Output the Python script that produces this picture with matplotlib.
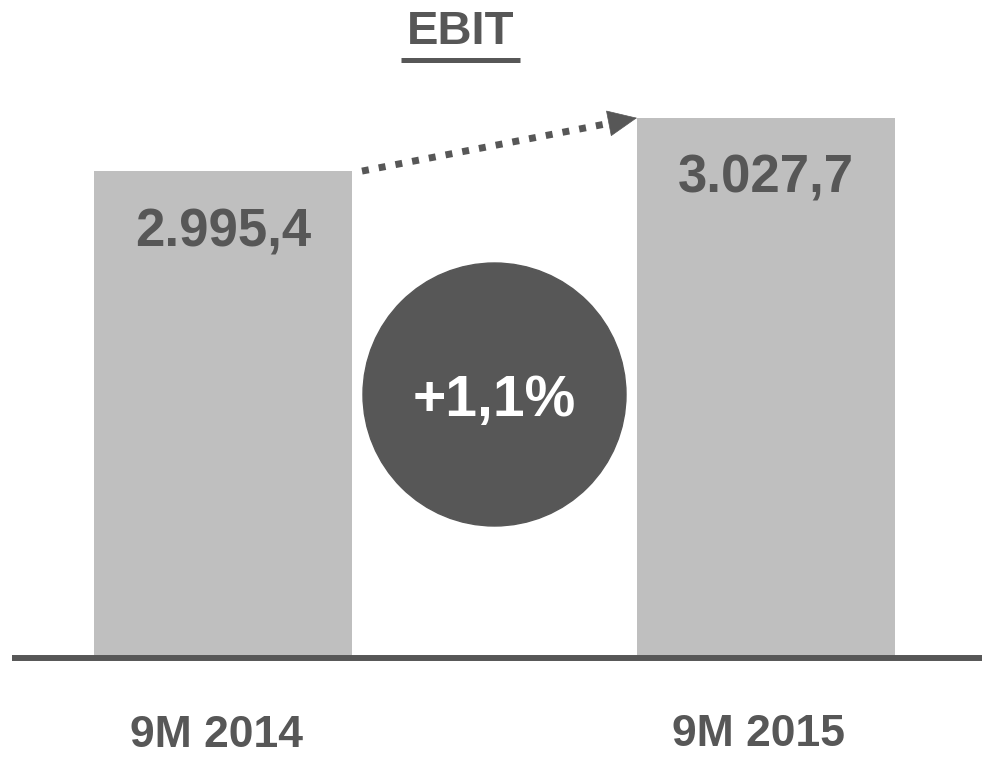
import matplotlib
matplotlib.use("Agg")
import matplotlib.pyplot as plt
from matplotlib.patches import Circle
from matplotlib.lines import Line2D

# ---- data ----
categories = ["9M 2014", "9M 2015"]
values = [2995.4, 3027.7]
value_labels = ["2.995,4", "3.027,7"]
growth_label = "+1,1%"
title = "EBIT"
axis_base = 2700.0

# ---- style ----
plt.rcParams['font.family'] = ['Liberation Sans', 'DejaVu Sans']
BAR = "#BFBFBF"
DARK = "#575757"
W, H, DPI = 982, 757, 100

fig = plt.figure(figsize=(W / DPI, H / DPI), dpi=DPI)
ax = fig.add_axes([0, 0, 1, 1])
ax.set_axis_off()

# x: bar centres at px 223 / 766 (543 px per unit)
ax.set_xlim(-223 / 543, (W - 223) / 543)
# y: base 2700 at px 657.5, 0.6073 units per px
s = 0.6073
ax.set_ylim(axis_base - (H - 657.5) * s, axis_base + 657.5 * s)

xs = list(range(len(categories)))
bw = 258 / 543
heights = [v - axis_base for v in values]
ax.bar(xs, heights, bottom=axis_base, width=bw, color=BAR, zorder=1)

# baseline
ax.axhline(axis_base, xmin=12 / W, xmax=1, color=DARK, lw=4.3, zorder=3,
           solid_capstyle='butt')

# value labels inside bars
for x, v, lab in zip(xs, values, value_labels):
    ax.annotate(lab, xy=(x, v), xytext=(0, -75), textcoords='offset pixels',
                ha='center', va='baseline', fontsize=38, fontweight='bold',
                color=DARK, zorder=4)

# category labels
cat_base_px = [747, 746]
for x, lab, by in zip(xs, categories, cat_base_px):
    ax.annotate(lab, xy=(x, axis_base), xytext=(-7, -(by - 657.5)),
                textcoords='offset pixels', ha='center', va='baseline',
                fontsize=32, fontweight='bold', color=DARK)

# dotted trend arrow between bar tops
x0 = xs[0] + bw / 2 + 10 / 543
x1 = xs[1] - bw / 2
# head base ~28 px before tip along the line
frac = 28 / 280
xb = x1 - (x1 - x0) * frac
yb = values[1] - (values[1] - values[0]) * frac
ax.plot([x0, xb], [values[0], yb], color=DARK, lw=5,
        linestyle=(0, (1, 1.45)), dash_capstyle='butt', zorder=5)
ax.annotate('', xy=(x1, values[1]), xytext=(xb, yb),
            arrowprops=dict(arrowstyle='-|>,head_length=20,head_width=9',
                            mutation_scale=1, color=DARK, lw=0.5,
                            shrinkA=0, shrinkB=0), zorder=5)

# growth circle
circ = Circle((494.5 / DPI, (H - 394.5) / DPI), 131.5 / DPI,
              transform=fig.dpi_scale_trans, color=DARK, zorder=6)
ax.add_patch(circ)
fig.text(494 / W, 1 - 416 / H, growth_label, ha='center', va='baseline',
         fontsize=41, fontweight='bold', color='white', zorder=7)

# title with underline
fig.text(461 / W, 1 - 44 / H, title, ha='center', va='baseline',
         fontsize=34, fontweight='bold', color=DARK)
fig.add_artist(Line2D([401 / W, 520 / W], [1 - 59.5 / H, 1 - 59.5 / H],
                      transform=fig.transFigure, color=DARK, lw=3.6,
                      solid_capstyle='butt'))

fig.savefig("out.png", dpi=DPI)
